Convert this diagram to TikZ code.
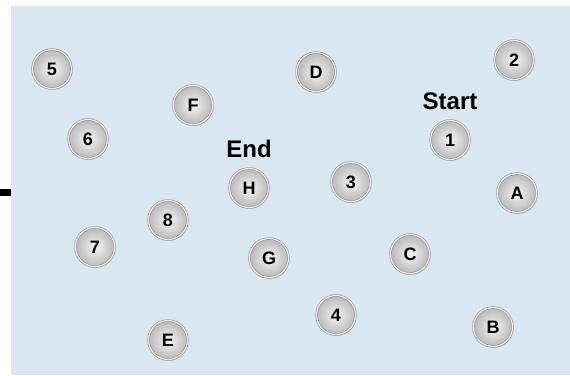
\documentclass[tikz,border=0pt]{standalone}
\usepackage{fontspec}
\setmainfont{Liberation Sans}
\usetikzlibrary{shadows}
\definecolor{bgblue}{RGB}{219,231,240}
\definecolor{rimgray}{RGB}{150,150,150}
\tikzset{
  ball/.style={circle, minimum size=39pt, inner sep=0pt, draw=rimgray, line width=0.6pt,
               double=gray!15, double distance=1.2pt,
               inner color=gray!8, outer color=gray!55,
               drop shadow={opacity=0.25, shadow xshift=1pt, shadow yshift=-1.5pt},
               font=\fontsize{18}{20}\selectfont\bfseries},
  tag/.style={inner sep=0pt, font=\fontsize{24}{26}\selectfont\bfseries},
}
\begin{document}
\begin{tikzpicture}[x=1pt,y=-1pt]
                \useasboundingbox (0,0) rectangle (570,375);
                \fill[bgblue] (11,6) rectangle (570,375);
                \coordinate (stubL) at (0,192);
                \coordinate (stubR) at (11,192);

                % the balls
                \node[ball] (n5) at (52,69)   {5};
                \node[ball] (n2) at (514,60)  {2};
                \node[ball] (nD) at (316,72)  {D};
                \node[ball] (nF) at (193,105) {F};
                \node[ball, label={[tag, name=start, label distance=10pt]above:Start}] (n1) at (450,140) {1};
                \node[ball] (n6) at (88,139)  {6};
                \node[ball, label={[tag, name=end, label distance=10pt]above:End}] (nH) at (249,188) {H};
                \node[ball] (n3) at (351,182) {3};
                \node[ball] (nA) at (517,193) {A};
                \node[ball] (n8) at (168,220) {8};
                \node[ball] (n7) at (95,247)  {7};
                \node[ball] (nG) at (269,258) {G};
                \node[ball] (nC) at (410,254) {C};
                \node[ball] (n4) at (336,315) {4};
                \node[ball] (nB) at (493,327) {B};
                \node[ball] (nE) at (168,340) {E};

                % stub at the left edge
                \draw [line width=7pt] (stubL) -- (stubR);
              \end{tikzpicture}
\end{document}
